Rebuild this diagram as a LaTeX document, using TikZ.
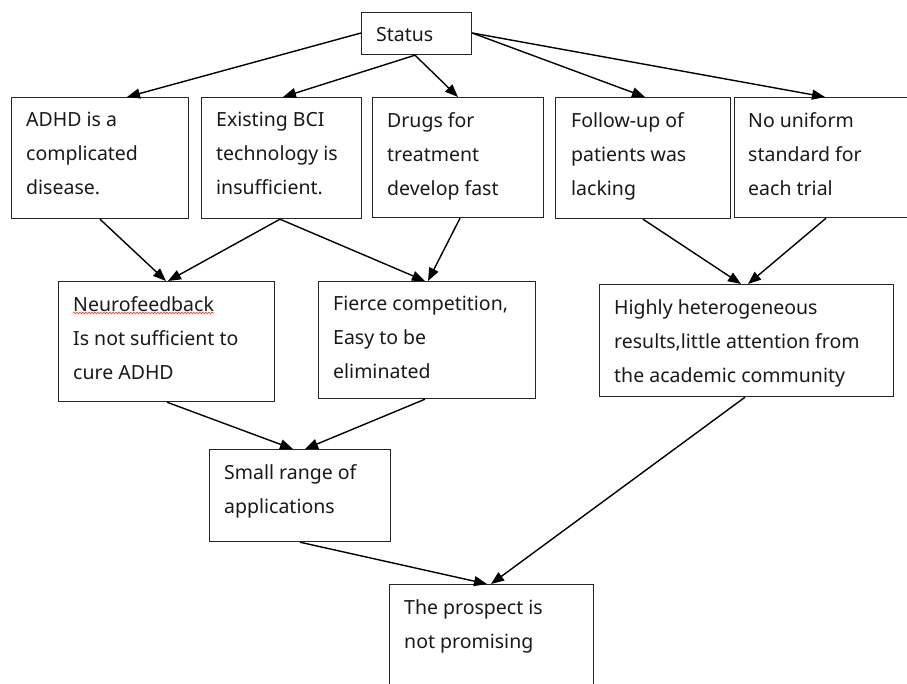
\documentclass[tikz,border=0pt]{standalone}
\usepackage{fontspec}
\setmainfont{Noto Sans}
\usetikzlibrary{arrows.meta,decorations.pathmorphing}
\tikzset{
  box/.style={draw=black!85, line width=1.2pt, fill=white, anchor=north west, inner sep=0pt},
  txt/.style={anchor=north west, inner sep=0pt, align=left, text=black!90,
    font=\fontsize{19.5pt}{34pt}\selectfont},
  arr/.style={draw=black, line width=1.4pt, -{Triangle[length=13pt,width=10pt]}},
  squiggle/.style={draw=red!80, line width=0.6pt, decorate,
    decoration={snake, amplitude=0.9pt, segment length=3pt}}
}
\begin{document}
\begin{tikzpicture}[x=1pt,y=-1pt]
\clip (0,0) rectangle (907,683);
\fill[white] (0,0) rectangle (907,683);
% boxes
\node[box, minimum width=110pt, minimum height=42pt] (status) at (361,12) {};
\node[box, minimum width=177pt, minimum height=121pt] (adhd) at (11,97) {};
\node[box, minimum width=160pt, minimum height=121pt] (bci) at (201,97) {};
\node[box, minimum width=171pt, minimum height=120pt] (drugs) at (372,97) {};
\node[box, minimum width=175pt, minimum height=121pt] (follow) at (555,97) {};
\node[box, minimum width=185pt, minimum height=120pt] (uniform) at (734,97) {};
\node[box, minimum width=216pt, minimum height=120pt] (neuro) at (58,281) {};
\node[box, minimum width=217pt, minimum height=117pt] (fierce) at (318,281) {};
\node[box, minimum width=294pt, minimum height=112pt] (hetero) at (599,284) {};
\node[box, minimum width=181pt, minimum height=92pt] (small) at (209,449) {};
\node[box, minimum width=204pt, minimum height=130pt] (prospect) at (389,584) {};
% texts
\node[txt] (tstatus) at ([shift={(15pt,-15pt)}]status.north west) {Status};
\node[txt] (tadhd) at ([shift={(15pt,-15pt)}]adhd.north west) {ADHD is a\\complicated\\disease.};
\node[txt] (tbci) at ([shift={(15pt,-15pt)}]bci.north west) {Existing BCI\\technology is\\insufficient.};
\node[txt] (tdrugs) at ([shift={(15pt,-15pt)}]drugs.north west) {Drugs for\\treatment\\develop fast};
\node[txt] (tfollow) at ([shift={(16pt,-15pt)}]follow.north west) {Follow-up of\\patients was\\lacking};
\node[txt] (tuniform) at ([shift={(14pt,-15pt)}]uniform.north west) {No uniform\\standard for\\each trial};
\node[txt] (tneuro) at ([shift={(15pt,-15pt)}]neuro.north west) {Neurofeedback\\Is not sufficient to\\cure ADHD};
\node[txt] (tfierce) at ([shift={(15pt,-15pt)}]fierce.north west) {Fierce competition,\\Easy to be\\eliminated};
\node[txt] (thetero) at ([shift={(15pt,-15pt)}]hetero.north west) {Highly heterogeneous\\results,little attention from\\the academic community};
\node[txt] (tsmall) at ([shift={(15pt,-15pt)}]small.north west) {Small range of\\applications};
\node[txt] (tprospect) at ([shift={(15pt,-15pt)}]prospect.north west) {The prospect is\\not promising};
% spell-check squiggle
\coordinate (sqa) at (73,313);
\coordinate (sqb) at (214,313);
\draw[squiggle] (sqa) -- (sqb);
% connectors
\draw[arr] ([yshift=-21pt]status.north west) -- ([xshift=116pt]adhd.north west);
\draw[arr] ([xshift=54pt]status.south west) -- ([xshift=82pt]bci.north west);
\draw[arr] ([xshift=54pt]status.south west) -- ([xshift=86pt]drugs.north west);
\draw[arr] ([yshift=-21pt]status.north east) -- ([xshift=90pt]follow.north west);
\draw[arr] ([yshift=-21pt]status.north east) -- ([xshift=91pt]uniform.north west);
\draw[arr] ([xshift=89pt]adhd.south west) -- ([xshift=108pt]neuro.north west);
\draw[arr] ([xshift=79pt]bci.south west) -- ([xshift=110pt]neuro.north west);
\draw[arr] ([xshift=79pt]bci.south west) -- ([xshift=107pt]fierce.north west);
\draw[arr] ([xshift=88pt]drugs.south west) -- ([xshift=110pt]fierce.north west);
\draw[arr] ([xshift=88pt]follow.south west) -- ([xshift=142pt]hetero.north west);
\draw[arr] ([xshift=92pt]uniform.south west) -- ([xshift=149pt]hetero.north west);
\draw[arr] ([xshift=109pt]neuro.south west) -- ([xshift=84pt]small.north west);
\draw[arr] ([xshift=107pt]fierce.south west) -- ([xshift=96pt]small.north west);
\draw[arr] ([xshift=91pt]small.south west) -- ([xshift=98pt]prospect.north west);
\draw[arr] ([xshift=146pt]hetero.south west) -- ([xshift=102pt]prospect.north west);
\end{tikzpicture}
\end{document}
